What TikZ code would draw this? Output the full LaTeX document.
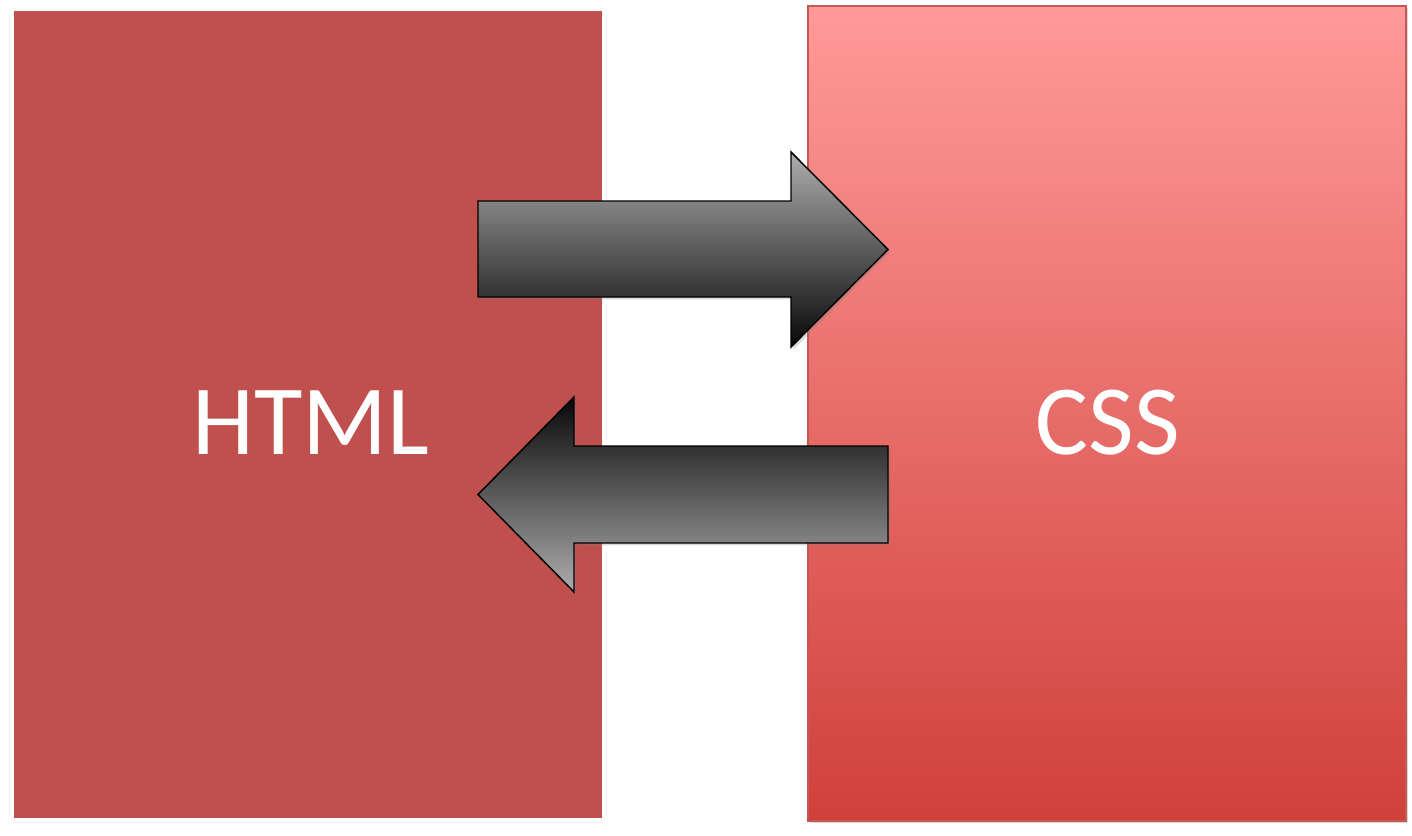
\documentclass[tikz,border=0pt]{standalone}
\usepackage{fontspec}
\setmainfont{Carlito}
\usetikzlibrary{positioning,shadows}
\definecolor{htmlred}{HTML}{C0504D}
\definecolor{csstop}{HTML}{FF9A98}
\definecolor{cssbottom}{HTML}{D0403B}
\definecolor{cssedge}{HTML}{C45855}
\tikzset{
  soft shadow/.style={drop shadow={opacity=0.3, shadow xshift=1.8pt, shadow yshift=-1.8pt}},
  html box/.style={fill=htmlred, draw=white, line width=3pt, soft shadow},
  css box/.style={top color=csstop, bottom color=cssbottom, draw=cssedge, line width=1pt, soft shadow},
  fat arrow/.style={draw=black, line width=1.1pt, line join=miter, soft shadow},
  box label/.style={inner sep=0pt, text=white, font=\fontsize{74.5}{88}\selectfont}
}

\begin{document}
\begin{tikzpicture}[x=0.75pt, y=-0.75pt]
  \useasboundingbox (0,0) rectangle (1412,835);
  % the two boxes
  \draw[html box] (12,9) rectangle (604,820);
  \draw[css box] (808,6) rectangle (1406,821);
  \node (html) [box label] at (311,423) {HTML};
  \node (css) [box label] at (1108,423) {CSS};
  % html -> css
  \path[fat arrow, top color=black!32, bottom color=black!97]
    (478,201) -- (791,201) -- (791,152) -- (888,249.5) -- (791,347)
    -- (791,297) -- (478,297) -- cycle;
  % css -> html
  \path[fat arrow, top color=black!97, bottom color=black!32]
    (888,446) -- (574,446) -- (574,397) -- (478,494.5) -- (574,592)
    -- (574,543) -- (888,543) -- cycle;
\end{tikzpicture}
\end{document}
